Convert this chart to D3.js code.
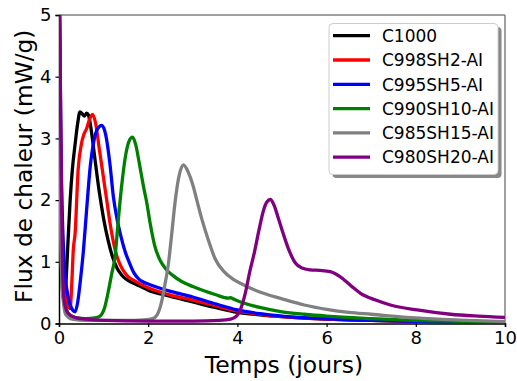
<!DOCTYPE html>
<html><head><meta charset="utf-8">
<script src="https://cdn.jsdelivr.net/npm/d3@7"></script>
<style>body{margin:0;background:#fff}svg{display:block}</style>
</head><body>
<script>
// ---- data ----
const seriesNames = ["C1000","C998SH2-AI","C995SH5-AI","C990SH10-AI","C985SH15-AI","C980SH20-AI"];
const seriesColors = ["#000000","#ff0000","#0000ff","#008000","#808080","#800080"];
const xTicks = [0,2,4,6,8,10];
const yTicks = [0,1,2,3,4,5];

const tC1000 = [0,0.03,0.07,0.11,0.15,0.2,0.25,0.3,0.36,0.42,0.47,0.52,0.57,0.62,0.66,0.72,0.8,0.9,1.0,1.1,1.2,1.3,1.4,1.5,1.65,1.8,2.0,2.5,3.0,3.5,4.0,4.5,5.0,6.0,7.0,8.0,9.0,10];
const yC1000 = [6,2.6,0.9,0.38,0.6,1.3,2.0,2.5,2.9,3.25,3.43,3.4,3.36,3.41,3.38,3.15,2.7,2.15,1.7,1.35,1.08,0.9,0.79,0.72,0.66,0.61,0.54,0.44,0.35,0.26,0.18,0.14,0.11,0.07,0.05,0.035,0.025,0.02];

const tSH2 = [0,0.04,0.1,0.17,0.25,0.29,0.32,0.36,0.43,0.5,0.56,0.62,0.68,0.75,0.82,0.9,1.0,1.07,1.15,1.26,1.36,1.45,1.55,1.7,1.85,2.0,2.5,3.0,3.5,4.0,4.5,5.0,6.0,7.0,8.0,9.0,10];
const ySH2 = [6,2.5,0.9,0.35,0.24,0.7,1.19,1.45,2.5,2.9,3.07,3.16,3.3,3.39,3.25,2.85,2.35,2.0,1.6,1.19,0.97,0.85,0.76,0.69,0.63,0.58,0.46,0.38,0.29,0.2,0.15,0.11,0.07,0.05,0.035,0.025,0.02];

const tSH5 = [0,0.05,0.12,0.2,0.28,0.36,0.42,0.48,0.55,0.62,0.7,0.78,0.86,0.96,1.05,1.14,1.22,1.3,1.4,1.48,1.57,1.68,1.79,1.9,2.0,2.5,3.0,3.5,4.0,4.5,5.0,6.0,7.0,8.0,9.0,10];
const ySH5 = [6,2.6,0.95,0.45,0.25,0.19,0.35,0.7,1.2,1.85,2.54,2.95,3.15,3.21,3.05,2.6,2.05,1.7,1.38,1.17,1.0,0.82,0.72,0.67,0.64,0.52,0.43,0.32,0.22,0.16,0.12,0.075,0.05,0.035,0.025,0.02];

const tSH10 = [0,0.03,0.07,0.15,0.25,0.4,0.6,0.8,0.92,1.02,1.1,1.18,1.26,1.32,1.4,1.5,1.58,1.65,1.72,1.8,1.9,1.97,2.05,2.15,2.27,2.4,2.55,2.75,3.0,3.25,3.5,3.8,3.85,3.9,4.0,4.5,5.0,5.5,6.0,7.0,8.0,9.0,10];
const ySH10 = [6,2.0,0.6,0.25,0.13,0.09,0.08,0.09,0.12,0.25,0.5,0.8,1.1,1.6,2.2,2.75,2.97,3.02,2.9,2.6,2.2,1.95,1.6,1.25,1.02,0.88,0.78,0.68,0.6,0.53,0.47,0.41,0.42,0.4,0.37,0.26,0.19,0.15,0.12,0.08,0.05,0.035,0.025];

const tSH15 = [0,0.03,0.08,0.15,0.3,0.6,1.0,1.5,1.9,2.1,2.2,2.3,2.38,2.45,2.52,2.6,2.68,2.79,2.9,3.0,3.09,3.2,3.35,3.5,3.7,3.9,4.1,4.3,4.5,5.0,5.5,6.0,6.5,7.0,8.0,9.0,10];
const ySH15 = [6,2.0,0.5,0.15,0.07,0.05,0.05,0.05,0.06,0.08,0.14,0.35,0.65,0.95,1.4,1.95,2.35,2.57,2.45,2.25,2.0,1.7,1.35,1.05,0.84,0.72,0.64,0.57,0.51,0.4,0.3,0.23,0.18,0.15,0.09,0.055,0.03];

const tSH20 = [0,0.02,0.05,0.08,0.12,0.2,0.35,0.6,1.0,2.0,3.0,3.6,3.85,3.98,4.08,4.18,4.28,4.38,4.48,4.58,4.66,4.74,4.82,4.92,5.03,5.15,5.3,5.45,5.63,5.85,6.08,6.3,6.55,6.76,7.1,7.43,8.03,8.78,9.4,10];
const ySH20 = [6,4.5,2.5,0.9,0.35,0.17,0.1,0.07,0.05,0.04,0.04,0.05,0.07,0.12,0.25,0.5,0.85,1.15,1.5,1.82,1.97,2.01,1.92,1.7,1.45,1.2,0.98,0.9,0.87,0.86,0.84,0.76,0.61,0.49,0.38,0.3,0.22,0.15,0.12,0.1];

const seriesT = [tC1000,tSH2,tSH5,tSH10,tSH15,tSH20];
const seriesY = [yC1000,ySH2,ySH5,ySH10,ySH15,ySH20];

// ---- chart ----
const W = 517, H = 381;
const m = {left:59, right:505, top:15, bottom:323.5};
const FONT = "'DejaVu Sans', sans-serif";

const svg = d3.select("body").append("svg").attr("width",W).attr("height",H);
const x = d3.scaleLinear().domain([0,10]).range([m.left,m.right]);
const y = d3.scaleLinear().domain([0,5]).range([m.bottom,m.top]);

svg.append("clipPath").attr("id","clip").append("rect")
  .attr("x",m.left).attr("y",m.top).attr("width",m.right-m.left).attr("height",m.bottom-m.top);

// spines top/right (gray)
svg.append("line").attr("x1",m.left).attr("x2",m.right).attr("y1",m.top).attr("y2",m.top)
  .attr("stroke","#808080").attr("stroke-width",1.5);
svg.append("line").attr("x1",m.right).attr("x2",m.right).attr("y1",m.top).attr("y2",m.bottom)
  .attr("stroke","#808080").attr("stroke-width",1.5);

// axes
const xAxis = svg.append("g").attr("transform",`translate(0,${m.bottom})`)
  .call(d3.axisBottom(x).tickValues(xTicks).tickSize(3.5).tickPadding(4).tickFormat(d3.format("d")));
const yAxis = svg.append("g").attr("transform",`translate(${m.left},0)`)
  .call(d3.axisLeft(y).tickValues(yTicks).tickSize(3.5).tickPadding(4).tickFormat(d3.format("d")));
[xAxis,yAxis].forEach(g=>{
  g.selectAll(".domain").attr("stroke","#000").attr("stroke-width",1.5);
  g.selectAll(".tick line").attr("stroke","#000").attr("stroke-width",1.2);
  g.selectAll("text").attr("font-family",FONT).attr("font-size",18).attr("fill","#000");
});

// lines
const line = d3.line().x(d=>x(d[0])).y(d=>y(d[1])).curve(d3.curveMonotoneX);
const plot = svg.append("g").attr("clip-path","url(#clip)");
seriesNames.forEach((name,i)=>{
  const pts = seriesT[i].map((t,j)=>[t,seriesY[i][j]]);
  plot.append("path").datum(pts).attr("d",line).attr("fill","none")
    .attr("stroke",seriesColors[i]).attr("stroke-width",3.3).attr("stroke-linejoin","round");
});

// axis titles
svg.append("text").attr("x",(m.left+m.right)/2+2).attr("y",373).attr("text-anchor","middle")
  .attr("font-family",FONT).attr("font-size",23.5).text("Temps (jours)");
svg.append("text").attr("transform",`translate(31.5,${(m.top+m.bottom)/2-3}) rotate(-90)`)
  .attr("text-anchor","middle").attr("font-family",FONT).attr("font-size",23.3).text("Flux de chaleur (mW/g)");

// legend
const lg = svg.append("g");
const lx = 329, ly = 23.5, lw = 169, lh = 151;
lg.append("rect").attr("x",lx+3.5).attr("y",ly+3.5).attr("width",lw).attr("height",lh).attr("rx",4)
  .attr("fill","#888");
lg.append("rect").attr("x",lx).attr("y",ly).attr("width",lw).attr("height",lh).attr("rx",4)
  .attr("fill","#fff").attr("stroke","#cccccc").attr("stroke-width",1);
seriesNames.forEach((name,i)=>{
  const cy = 35.7 + 24.3*i;
  lg.append("line").attr("x1",333).attr("x2",370).attr("y1",cy).attr("y2",cy)
    .attr("stroke",seriesColors[i]).attr("stroke-width",3.3);
  lg.append("text").attr("x",382).attr("y",cy+6.2).attr("font-family",FONT).attr("font-size",17)
    .text(name);
});
</script>
</body></html>
